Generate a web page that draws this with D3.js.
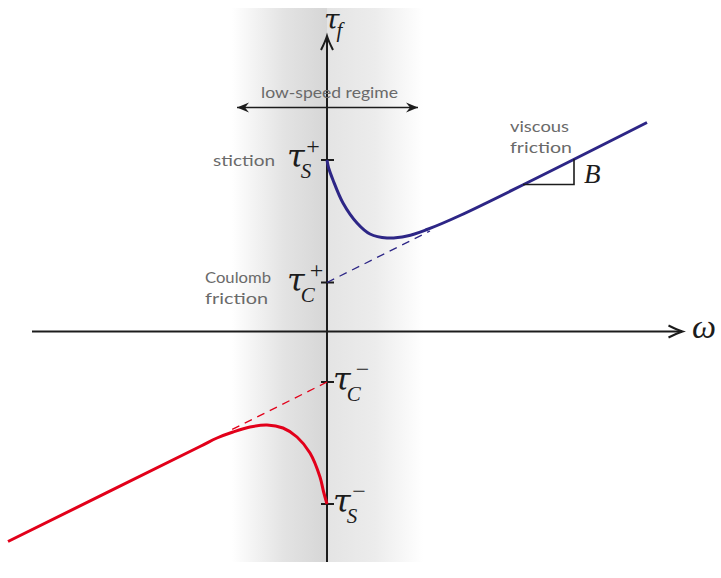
<!DOCTYPE html>
<html><head><meta charset="utf-8">
<script src="https://cdn.jsdelivr.net/npm/d3@7"></script>
<style>html,body{margin:0;padding:0;background:#fff;}svg{display:block;}</style>
</head><body>
<svg id="chart" width="721" height="578"></svg>
<script>
// ---- data (ω in arbitrary units, τ in arbitrary units) ----
const tauS_pos = 1.715, tauC_pos = 0.49, tauC_neg = -0.505, tauS_neg = -1.725;
const B = 0.5;
const blueOmega = [0, 0.015, 0.06, 0.16, 0.30, 0.43, 0.60, 0.80, 1.00, 1.33, 3.20];
const blueTau   = [1.715, 1.64, 1.515, 1.285, 1.085, 0.975, 0.935, 0.955, 1.02, 1.16, 2.09];
const redOmega  = [0, -0.035, -0.07, -0.17, -0.30, -0.44, -0.60, -0.77, -0.94, -1.10, -1.27, -3.19];
const redTau    = [-1.725, -1.60, -1.455, -1.215, -1.055, -0.965, -0.935, -0.955, -1.005, -1.065, -1.15, -2.10];
const blueDashOmega = [0, 1.03];
const redDashOmega  = [0, -0.97];
const regimeOmega = [-0.95, 0.96];
const slopeOmega = [1.96, 2.47];
const tickTau = [tauS_pos, tauC_pos, tauC_neg, tauS_neg];

const svg = d3.select("#chart");
const W = 721, H = 578;
const x = d3.scaleLinear().domain([-3.27, 3.94]).range([0, W]);
const y = d3.scaleLinear().domain([3.315, -2.465]).range([0, H]);

// ---- shaded low-speed band ----
const defs = svg.append("defs");
const gl = defs.append("linearGradient").attr("id","gl").attr("x1","0").attr("x2","1").attr("y1","0").attr("y2","0");
gl.append("stop").attr("offset","0").attr("stop-color","#ffffff");
gl.append("stop").attr("offset","0.55").attr("stop-color","#e3e3e3");
gl.append("stop").attr("offset","1").attr("stop-color","#d6d6d6");
const gr = defs.append("linearGradient").attr("id","gr").attr("x1","0").attr("x2","1").attr("y1","0").attr("y2","0");
gr.append("stop").attr("offset","0").attr("stop-color","#e4e4e4");
gr.append("stop").attr("offset","0.5").attr("stop-color","#ececec");
gr.append("stop").attr("offset","1").attr("stop-color","#ffffff");
const bandTop = y(3.235), bandBot = y(-2.305);
svg.append("rect").attr("x", x(regimeOmega[0])).attr("y", bandTop)
  .attr("width", x(0)-x(regimeOmega[0])).attr("height", bandBot-bandTop).attr("fill","url(#gl)");
svg.append("rect").attr("x", x(0)).attr("y", bandTop)
  .attr("width", x(regimeOmega[1])-x(0)).attr("height", bandBot-bandTop).attr("fill","url(#gr)");

const ink = "#1c1c1c";
// ---- axes ----
svg.append("line").attr("x1", x(-2.95)).attr("x2", x(3.55)).attr("y1", y(0)).attr("y2", y(0))
  .attr("stroke", ink).attr("stroke-width", 2);
svg.append("line").attr("x1", x(0)).attr("x2", x(0)).attr("y1", y(-2.305)).attr("y2", y(2.95))
  .attr("stroke", ink).attr("stroke-width", 2);
const arrowPath = "M-14,-6 Q-5,-1.5 0,0 Q-5,1.5 -14,6";
svg.append("path").attr("d", arrowPath).attr("fill","none").attr("stroke",ink).attr("stroke-width",2)
  .attr("transform", `translate(${x(3.555)},${y(0)})`);
svg.append("path").attr("d", arrowPath).attr("fill","none").attr("stroke",ink).attr("stroke-width",2)
  .attr("transform", `translate(${x(0)},${y(2.955)}) rotate(-90)`);

// ---- low-speed regime double arrow ----
const ry = 107.5;
svg.append("line").attr("x1", x(regimeOmega[0])+5).attr("x2", x(regimeOmega[1])-5)
  .attr("y1", ry).attr("y2", ry).attr("stroke", ink).attr("stroke-width", 1.6);
const stealth = "M0,0 L-12,-5 L-8,0 L-12,5 Z";
svg.append("path").attr("d", stealth).attr("fill", ink)
  .attr("transform", `translate(${x(regimeOmega[1])-5},${ry})`);
svg.append("path").attr("d", stealth).attr("fill", ink)
  .attr("transform", `translate(${x(regimeOmega[0])+5},${ry}) rotate(180)`);

// ---- ticks ----
svg.selectAll("line.tick").data(tickTau).join("line").attr("class","tick")
  .attr("x1", x(0)-6).attr("x2", x(0)+7).attr("y1", d=>y(d)).attr("y2", d=>y(d))
  .attr("stroke", ink).attr("stroke-width", 2);

// ---- curves ----
const line = d3.line().x(d=>x(d[0])).y(d=>y(d[1])).curve(d3.curveCatmullRom.alpha(0.5));
const blueCol = "#2d2686", redCol = "#e2001a";
svg.append("path").datum(blueDashOmega.map(w=>[w, tauC_pos + B*w]))
  .attr("d", d3.line().x(d=>x(d[0])).y(d=>y(d[1]))).attr("fill","none")
  .attr("stroke", blueCol).attr("stroke-width", 1.3).attr("stroke-dasharray","8,6");
svg.append("path").datum(redDashOmega.map(w=>[w, tauC_neg + B*w]))
  .attr("d", d3.line().x(d=>x(d[0])).y(d=>y(d[1]))).attr("fill","none")
  .attr("stroke", redCol).attr("stroke-width", 1.3).attr("stroke-dasharray","8,6");
svg.append("path").datum(blueOmega.map((w,i)=>[w, blueTau[i]]))
  .attr("d", line).attr("fill","none").attr("stroke", blueCol).attr("stroke-width", 3);
svg.append("path").datum(redOmega.map((w,i)=>[w, redTau[i]]))
  .attr("d", line).attr("fill","none").attr("stroke", redCol).attr("stroke-width", 3);

// ---- slope triangle ----
const t0 = [slopeOmega[0], tauC_pos + B*slopeOmega[0]];
const t1 = [slopeOmega[1], tauC_pos + B*slopeOmega[1]];
svg.append("path").attr("d", `M${x(t0[0])},${y(t0[1])} L${x(t1[0])},${y(t0[1])} L${x(t1[0])},${y(t1[1])}`)
  .attr("fill","none").attr("stroke", ink).attr("stroke-width", 1.6);

// ---- math labels ----
const serif = "'Liberation Serif','DejaVu Serif',serif";
const tauFont = "'DejaVu Serif',serif";
function tauLabel(px, baseY, sub, sup){
  const t = svg.append("text").attr("x", px).attr("y", baseY).attr("font-family", tauFont)
    .attr("font-style","italic").attr("font-size", 32).attr("fill", ink);
  t.append("tspan").text("τ");
  t.append("tspan").attr("font-family", serif).attr("font-size", 21).attr("dx", -4).attr("dy", 11).text(sub);
  t.append("tspan").attr("font-family", serif).attr("font-style","normal").attr("font-size", 24)
    .attr("dx", -5).attr("dy", -24).text(sup);
}
tauLabel(287, y(tauS_pos)+7, "S", "+");
tauLabel(287, y(tauC_pos)+8, "C", "+");
tauLabel(333, y(tauC_neg)+8, "C", "−");
tauLabel(333, y(tauS_neg)+8, "S", "−");
// axis labels
const tf = svg.append("text").attr("x", 324).attr("y", 29).attr("font-family", tauFont)
  .attr("font-style","italic").attr("font-size", 28).attr("fill", ink);
tf.append("tspan").text("τ");
tf.append("tspan").attr("font-family", serif).attr("font-size", 21).attr("dx", -3).attr("dy", 8).text("f");
svg.append("text").attr("x", 692).attr("y", 338).attr("font-family", serif).attr("font-style","italic")
  .attr("font-size", 34).attr("fill", ink).text("ω");
svg.append("text").attr("x", 584).attr("y", 183).attr("font-family", serif).attr("font-style","italic")
  .attr("font-size", 27).attr("fill", ink).text("B");

// ---- handwritten notes ----
const hand = "Lato, 'Open Sans', sans-serif";
function note(txt, px, py, len){
  svg.append("text").attr("x", px).attr("y", py).attr("font-family", hand)
    .attr("font-size", 16).attr("fill", "#6a6a6a").attr("textLength", len)
    .attr("lengthAdjust","spacingAndGlyphs").text(txt);
}
note("low-speed regime", 261, 98, 137);
note("stiction", 213, 166, 62);
note("Coulomb", 205, 283, 66);
note("friction", 205, 304, 63);
note("viscous", 510, 132, 59);
note("friction", 510, 153, 62);
</script>
</body></html>
